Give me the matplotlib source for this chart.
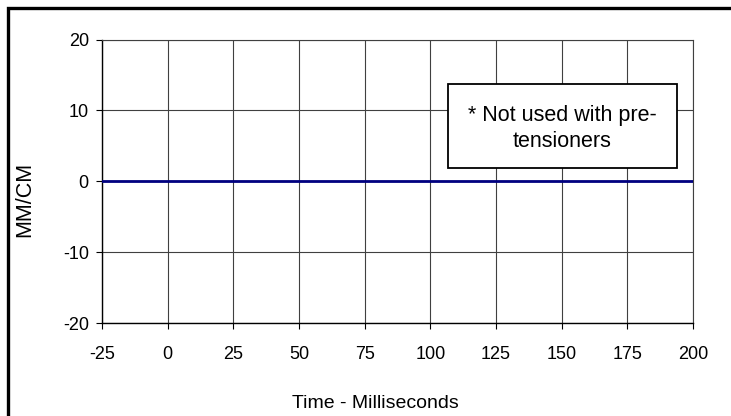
import matplotlib
matplotlib.use("Agg")
import matplotlib.pyplot as plt
from matplotlib.patches import Rectangle
from matplotlib.ticker import FuncFormatter

# data
time_ms = [-25, 0, 25, 50, 75, 100, 125, 150, 175, 200]
mm_per_cm = [0, 0, 0, 0, 0, 0, 0, 0, 0, 0]
x_ticks = [-25, 0, 25, 50, 75, 100, 125, 150, 175, 200]
y_ticks = [-20, -10, 0, 10, 20]
note = "* Not used with pre-\ntensioners"

W, H = 731, 416
plain = ["Liberation Sans", "DejaVu Sans"]

fig = plt.figure(figsize=(W / 100, H / 100), dpi=100)
fig.patch.set_facecolor("white")

ax = fig.add_axes([102 / W, 1 - 323 / H, (693 - 102) / W, (323 - 39.5) / H])
ax.plot(time_ms, mm_per_cm, color="#000080", lw=2.0, zorder=3)

ax.set_xlim(-25, 200)
ax.set_ylim(-20, 20)
ax.set_xticks(x_ticks)
ax.set_yticks(y_ticks)
# plain hyphen for negatives, like the original
fmt = FuncFormatter(lambda v, p: f"{v:g}")
ax.xaxis.set_major_formatter(fmt)
ax.yaxis.set_major_formatter(fmt)
ax.grid(True, color="#404040", lw=0.8)
ax.set_axisbelow(True)

for s in ["top", "right"]:
    ax.spines[s].set_color("#404040")
    ax.spines[s].set_linewidth(0.8)
for s in ["left", "bottom"]:
    ax.spines[s].set_color("black")
    ax.spines[s].set_linewidth(1.0)

ax.tick_params(axis="both", direction="out", length=4.5, width=0.8,
               colors="black", labelsize=13)
ax.tick_params(axis="x", pad=12)
ax.tick_params(axis="y", pad=5)
for lbl in ax.get_xticklabels() + ax.get_yticklabels():
    lbl.set_family(plain)

fig.text(375 / W, 1 - 403 / H, "Time - Milliseconds", ha="center", va="center",
         fontsize=14, family=plain)
fig.text(25 / W, 1 - 199 / H, "MM/CM", rotation=90, ha="center", va="center",
         fontsize=15.5, family=plain)

# note box
fig.add_artist(Rectangle((448 / W, 1 - 168 / H), (677 - 448) / W, (168 - 84) / H,
                         transform=fig.transFigure, facecolor="white",
                         edgecolor="black", lw=1.3, zorder=5))
fig.text(562.5 / W, 1 - 128.5 / H, note, ha="center", va="center",
         fontsize=15.5, family=plain, linespacing=1.3, zorder=6)

# outer frame (top and left only visible)
fig.add_artist(Rectangle((7.5 / W, -0.2), 1.2, 1.2 - 7.5 / H,
                         transform=fig.transFigure, facecolor="none",
                         edgecolor="black", lw=2.4, zorder=10))

fig.savefig("out.png", dpi=100)
